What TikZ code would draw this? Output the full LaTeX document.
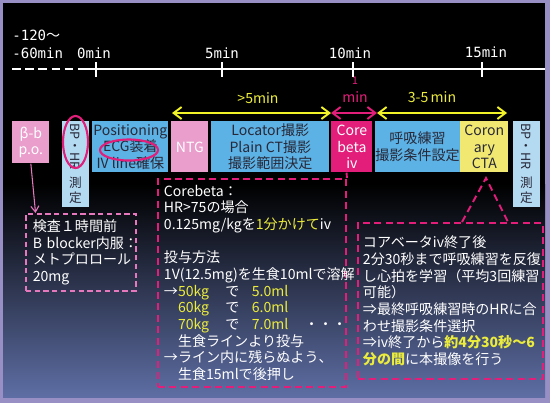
\documentclass[tikz,border=0pt]{standalone}
\usepackage{fontspec}
\usepackage{graphicx}
\setmainfont{Noto Sans CJK JP}
\newfontfamily\monofont{DejaVu Sans Mono}
\usetikzlibrary{arrows.meta,positioning,shapes.geometric}

\definecolor{frameviolet}{RGB}{152,144,196}
\definecolor{bgblue}{RGB}{94,110,164}
\definecolor{boxpink}{RGB}{234,158,204}
\definecolor{boxblue}{RGB}{92,178,228}
\definecolor{boxlight}{RGB}{180,218,242}
\definecolor{boxtext}{RGB}{40,40,56}
\definecolor{coremag}{RGB}{226,30,122}
\definecolor{ctayel}{RGB}{240,232,112}
\definecolor{txtyel}{RGB}{236,236,60}
\definecolor{arryel}{RGB}{242,242,40}
\definecolor{notepink}{RGB}{232,120,190}

\newcommand{\yel}[1]{\textcolor{txtyel}{#1}}

\begin{document}
\begin{tikzpicture}[x=0.02cm, y=-0.02cm, font=\fontsize{8}{9.5}\selectfont,
  tlab/.style={font=\monofont\fontsize{8}{9.5}\selectfont, text=white, inner sep=0pt},
  proc/.style={anchor=north west, inner sep=0pt, minimum height=1.02cm,
    align=center, text=boxtext},
  vlab/.style={text=boxtext, inner sep=0pt, font=\fontsize{7.2}{8.8}\selectfont},
  yarr/.style={{Straight Barb[length=1.6mm,width=2.4mm]}-{Straight Barb[length=1.6mm,width=2.4mm]},
    arryel, line width=1.1pt},
  marr/.style={yarr, coremag},
  note/.style={draw=coremag, line width=1.1pt, dash pattern=on 4pt off 2.5pt,
    anchor=north west, align=left, text=white},
  dline/.style={coremag, line width=1.1pt, dash pattern=on 4pt off 2.5pt},
  ring/.style={ellipse, draw=coremag, line width=1.2pt, inner sep=0pt}]
% ---- background and frame ----
\useasboundingbox (0,0) rectangle (550,403);
\fill[frameviolet] (0,0) rectangle (550,403);
\fill[black] (3,3) rectangle (545,185);
\shade[top color=black, bottom color=bgblue] (3,184) rectangle (545,397);
% ---- time axis ----
\draw[white, line width=0.9pt, dash pattern=on 5pt off 2.5pt] (12,69) -- (83,69);
\draw[white, line width=0.9pt] (83,69) -- (545,69);
\foreach \x in {96,222,353,482}
  \draw[white, line width=0.9pt] (\x,62) -- (\x,77);
\node[tlab, anchor=west] (t120) at (12,35) {-120{\rmfamily ～}};
\node[tlab, anchor=west] (t60) at (12,53) {-60min};
\node[tlab] (t0) at (94,53) {0min};
\node[tlab] (t5) at (222,53) {5min};
\node[tlab] (t10) at (350,53) {10min};
\node[tlab] (t15) at (486,52) {15min};
% ---- interval arrows ----
\coordinate (a0) at (172,113);
\coordinate (a1) at (331,113);
\coordinate (a2) at (377,113);
\coordinate (a3) at (507,113);
\draw[yarr] (a0) -- (a1);
\draw[marr] (a1) -- (a2);
\draw[yarr] (a2) -- (a3);
\node[text=txtyel] (l5) at (258,98) {>5min};
\node[text=coremag, font=\fontsize{6}{7}\selectfont] (l1a) at (355,81) {1};
\node[text=coremag] (l1b) at (355,97) {min};
\node[text=txtyel] (l35) at (432,97) {3-5\,min};
% ---- process boxes ----
\node[proc, fill=boxpink, text=white, minimum width=0.74cm, minimum height=0.84cm]
  (bb) at (12,121) {β-b\\p.o.};
\node[proc, fill=boxlight, minimum width=0.54cm, minimum height=1.72cm] (bpl) at (62,121) {};
\node[proc, fill=boxblue, minimum width=1.52cm] (pos) at (92,121)
  {Positioning\\ECG装着\\IV line確保};
\node[proc, fill=boxpink, text=white, minimum width=0.74cm] (ntg) at (171,121) {NTG};
\node[proc, fill=boxblue, minimum width=2.36cm] (loc) at (211,121)
  {Locator撮影\\Plain CT撮影\\撮影範囲決定};
\node[proc, fill=coremag, text=white, minimum width=0.82cm] (core) at (331,121)
  {Core\\beta\\iv};
\node[proc, fill=boxblue, minimum width=1.66cm] (breath) at (375,121)
  {呼吸練習\\撮影条件設定};
\node[proc, fill=ctayel, minimum width=0.96cm] (cta) at (460,121) {Coron\\ary\\CTA};
\node[proc, fill=boxlight, minimum width=0.54cm, minimum height=1.72cm] (bpr) at (513,121) {};
% vertical BP / HR labels
\node[vlab, rotate=-90, anchor=west] (bpltop) at (75.5,123) {BP・HR};
\node[vlab, align=center] (bplbot) at (75.5,190) {測\\定};
\node[vlab, rotate=-90, anchor=west] (bprtop) at (526.5,123) {BP・HR};
\node[vlab, align=center] (bprbot) at (526.5,190) {測\\定};
% highlight rings
\node[ring, minimum width=0.5cm, minimum height=1.04cm] (bpring) at (75.5,142) {};
\node[ring, minimum width=1.16cm, minimum height=0.42cm] (ecgring) at (129,150) {};
% ---- notes ----
\node[note, draw=notepink, line width=0.9pt, dash pattern=on 3pt off 2pt,
  minimum width=2.2cm, minimum height=1.5cm, inner xsep=0.14cm, text width=1.92cm]
  (premed) at (25,213)
  {検査１時間前\\\mbox{B blocker内服：}\\メトプロロール\\20mg};
\node[note, minimum width=3.76cm, minimum height=4.1cm, inner xsep=0.12cm, text width=3.52cm]
  (cbnote) at (157,178)
  {Corebeta：\\
   HR>75の場合\\
   0.125mg/kgを\yel{1分かけて}iv\\[9.5pt]
   投与方法\\
   1V(12.5mg)を生食10mlで溶解\\
   \makebox[8pt][l]{→}\makebox[27pt][l]{\yel{50kg}}\makebox[15pt][l]{で}\yel{5.0ml}\\
   \hspace*{8pt}\makebox[27pt][l]{\yel{60kg}}\makebox[15pt][l]{で}\yel{6.0ml}\\
   \hspace*{8pt}\makebox[27pt][l]{\yel{70kg}}\makebox[15pt][l]{で}\makebox[30pt][l]{\yel{7.0ml}}・・・\\
   \hspace*{8pt}生食ラインより投与\\
   →ライン内に残らぬよう、\\
   \hspace*{8pt}生食15mlで後押し};
\node[note, minimum width=3.7cm, minimum height=3.12cm, inner xsep=0.1cm, text width=3.5cm]
  (brnote) at (357,222)
  {コアベータiv終了後\\
   2分30秒まで呼吸練習を反復\\
   し心拍を学習（平均3回練習\\
   可能）\\
   ⇒最終呼吸練習時のHRに合\\
   わせ撮影条件選択\\
   ⇒iv終了から\yel{\bfseries 約4分30秒～6}\\
   \yel{\bfseries 分の間}に本撮像を行う};
% ---- connectors ----
\draw[notepink, line width=0.6pt, -{Straight Barb[length=1.2mm,width=1.6mm]}]
  (bb.south) -- ([xshift=6pt]premed.north west);
\draw[dline] ([xshift=-3pt]core.south) -- (cbnote.north east);
\coordinate (ctapeak) at (486,178);
\coordinate (footl) at (462,222);
\coordinate (footr) at (508,222);
\draw[dline] (footl) -- (ctapeak) -- (footr);
\end{tikzpicture}
\end{document}
